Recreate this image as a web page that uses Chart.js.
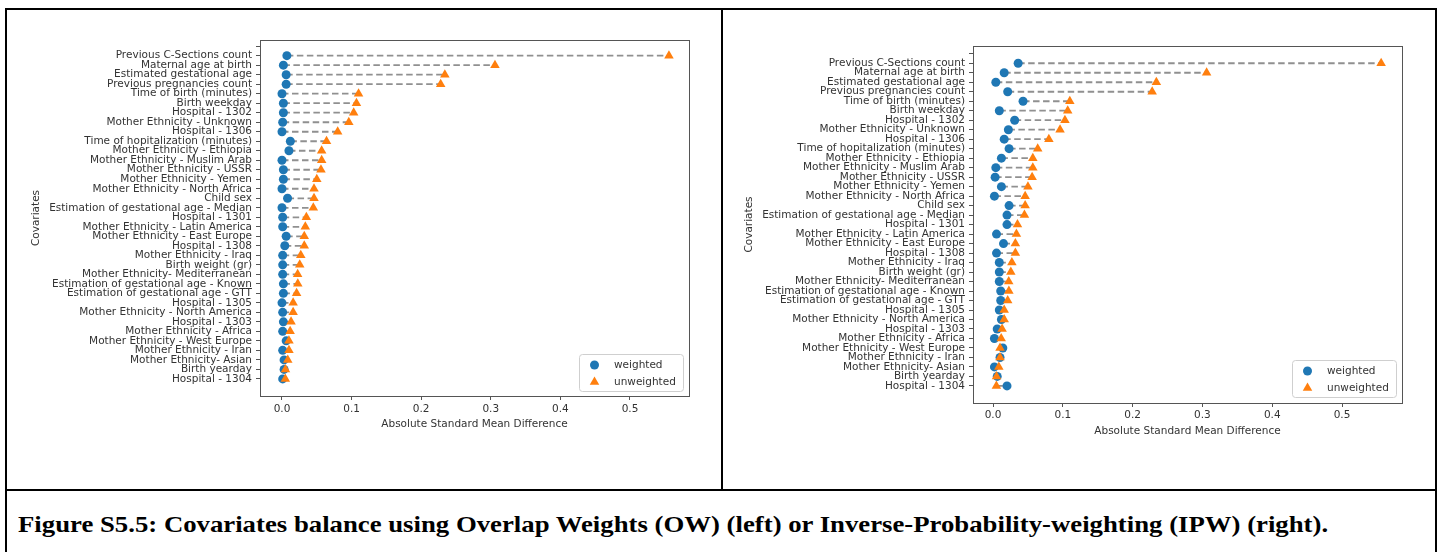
<!DOCTYPE html>
<html>
<head>
<meta charset="utf-8">
<script src="https://cdn.jsdelivr.net/npm/chart.js@4.4.0/dist/chart.umd.min.js"></script>
<style>
  body { margin: 0; background: #fff; width: 1442px; height: 552px; overflow: hidden; position: relative; }
  canvas { position: absolute; }
  .rule { position: absolute; background: #000; }
  #caption { position: absolute; left: 18px; top: 512px; line-height: 23px; white-space: nowrap;
             font: bold 23px "Liberation Serif", "Times New Roman", serif; color: #000;
             transform: scaleX(1.163); transform-origin: 0 50%; }
</style>
</head>
<body>
<canvas id="owChart" width="712" height="478" style="left:8px;top:10px"></canvas>
<canvas id="ipwChart" width="710" height="478" style="left:724px;top:10px"></canvas>

<div class="rule" style="left:5px;top:8px;width:1432px;height:2px"></div>
<div class="rule" style="left:5px;top:8px;width:2px;height:560px"></div>
<div class="rule" style="left:1435px;top:8px;width:2px;height:560px"></div>
<div class="rule" style="left:721px;top:8px;width:2px;height:483px"></div>
<div class="rule" style="left:5px;top:489px;width:1432px;height:2px"></div>
<div id="caption">Figure S5.5: Covariates balance using Overlap Weights (OW) (left) or Inverse-Probability-weighting (IPW) (right).</div>

<script>
// covariates, top to bottom
const covariates = [
  'Previous C-Sections count', 'Maternal age at birth', 'Estimated gestational age',
  'Previous pregnancies count', 'Time of birth (minutes)', 'Birth weekday', 'Hospital - 1302',
  'Mother Ethnicity - Unknown', 'Hospital - 1306', 'Time of hopitalization (minutes)',
  'Mother Ethnicity - Ethiopia', 'Mother Ethnicity - Muslim Arab', 'Mother Ethnicity - USSR',
  'Mother Ethnicity - Yemen', 'Mother Ethnicity - North Africa', 'Child sex',
  'Estimation of gestational age - Median', 'Hospital - 1301', 'Mother Ethnicity - Latin America',
  'Mother Ethnicity - East Europe', 'Hospital - 1308', 'Mother Ethnicity - Iraq', 'Birth weight (gr)',
  'Mother Ethnicity- Mediterranean', 'Estimation of gestational age - Known',
  'Estimation of gestational age - GTT', 'Hospital - 1305', 'Mother Ethnicity - North America',
  'Hospital - 1303', 'Mother Ethnicity - Africa', 'Mother Ethnicity - West Europe',
  'Mother Ethnicity - Iran', 'Mother Ethnicity- Asian', 'Birth yearday', 'Hospital - 1304'
];
const unweighted = [0.556, 0.306, 0.234, 0.228, 0.110, 0.107, 0.103, 0.096, 0.080, 0.064,
  0.057, 0.057, 0.056, 0.050, 0.046, 0.046, 0.045, 0.035, 0.0335, 0.032,
  0.032, 0.027, 0.0255, 0.0225, 0.0227, 0.021, 0.016, 0.016, 0.013, 0.0117,
  0.010, 0.010, 0.0083, 0.005, 0.0048];
const owWeighted = [0.007, 0.002, 0.006, 0.006, 0.000, 0.002, 0.002, 0.001, 0.000, 0.012,
  0.010, 0.000, 0.002, 0.002, 0.000, 0.008, 0.000, 0.001, 0.001, 0.006,
  0.004, 0.001, 0.001, 0.001, 0.002, 0.002, 0.000, 0.001, 0.002, 0.001,
  0.006, 0.001, 0.003, 0.003, 0.001];
const ipwWeighted = [0.036, 0.016, 0.004, 0.021, 0.043, 0.009, 0.031, 0.022, 0.016, 0.023,
  0.012, 0.004, 0.003, 0.012, 0.002, 0.023, 0.020, 0.020, 0.005, 0.015,
  0.005, 0.009, 0.009, 0.009, 0.011, 0.011, 0.009, 0.012, 0.006, 0.002,
  0.014, 0.010, 0.002, 0.006, 0.020];
const xTicks = [0.0, 0.1, 0.2, 0.3, 0.4, 0.5];
const seriesNames = ['weighted', 'unweighted'];

const FONT = { family: '"DejaVu Sans"', size: 10.5 };
const TEXT = '#333';

// full box around the plot area (matplotlib spines)
const frame = {
  id: 'frame',
  afterDraw(chart) {
    const { ctx, chartArea: a } = chart;
    ctx.save();
    ctx.strokeStyle = '#555';
    ctx.lineWidth = 1;
    ctx.strokeRect(Math.round(a.left) + 0.5, Math.round(a.top) + 0.5,
      Math.round(a.right - a.left), Math.round(a.bottom - a.top));
    ctx.restore();
  }
};

// legend drawn inside the lower right corner
const boxLegend = {
  id: 'boxLegend',
  afterDraw(chart, args, opts) {
    const { ctx, chartArea: a } = chart;
    const x = a.right - opts.right - opts.width, y = a.bottom - opts.bottom - opts.height;
    ctx.save();
    ctx.fillStyle = 'rgba(255,255,255,0.85)';
    ctx.strokeStyle = '#cfcfcf';
    ctx.lineWidth = 1;
    ctx.beginPath();
    ctx.roundRect(x + 0.5, y + 0.5, opts.width, opts.height, 3);
    ctx.fill();
    ctx.stroke();
    const items = chart.data.datasets.filter(d => d.inLegend);
    items.forEach((d, i) => {
      const cy = y + 11 + i * 17;
      ctx.fillStyle = d.backgroundColor;
      Chart.helpers.drawPoint(ctx, { pointStyle: d.pointStyle, radius: d.pointRadius, borderWidth: 0 }, x + 15.5, cy);
      ctx.fillStyle = TEXT;
      ctx.font = FONT.size + 'px ' + FONT.family;
      ctx.textBaseline = 'middle';
      ctx.fillText(d.label, x + 35, cy);
    });
    ctx.restore();
  }
};

function buildChart(id, weighted, cfg) {
  const rowLines = covariates.map((c, i) => ({
    data: [{ x: Math.min(weighted[i], unweighted[i]), y: i }, { x: Math.max(weighted[i], unweighted[i]), y: i }],
    showLine: true, borderColor: '#909090', borderWidth: 1.8, borderDash: [6.5, 3.5],
    pointRadius: 0, order: 3, inLegend: false
  }));
  return new Chart(document.getElementById(id).getContext('2d'), {
    type: 'scatter',
    data: {
      datasets: rowLines.concat([
        { label: seriesNames[0], data: weighted.map((v, i) => ({ x: v, y: i })), pointStyle: 'circle',
          pointRadius: 4.5, backgroundColor: '#1f77b4', borderWidth: 0, order: 2, inLegend: true },
        { label: seriesNames[1], data: unweighted.map((v, i) => ({ x: v, y: i })), pointStyle: 'triangle',
          pointRadius: 5.5, backgroundColor: '#ff7f0e', borderWidth: 0, order: 1, inLegend: true }
      ])
    },
    options: {
      responsive: false, animation: false, events: [],
      layout: { padding: { left: 0, top: cfg.padTop, right: cfg.padRight, bottom: cfg.padBottom } },
      plugins: { legend: { display: false }, tooltip: { enabled: false },
                 boxLegend: { width: 104, height: 37, right: 6, bottom: cfg.legendBottom } },
      scales: {
        x: {
          type: 'linear', min: cfg.xMin, max: cfg.xMax,
          afterBuildTicks: s => { s.ticks = xTicks.map(v => ({ value: v })); },
          afterFit: s => { s.height = 50; },
          ticks: { color: TEXT, font: FONT, padding: cfg.xTickPad, callback: v => v.toFixed(1) },
          grid: { drawOnChartArea: false, tickLength: 4, color: '#555' },
          border: { display: false },
          title: { display: true, text: 'Absolute Standard Mean Difference', color: TEXT, font: FONT,
                   padding: { top: 0, bottom: 15 } }
        },
        y: {
          type: 'linear', reverse: true, min: cfg.yMin, max: 35.8,
          afterBuildTicks: s => { s.ticks = [-1].concat(covariates.map((c, i) => i)).map(v => ({ value: v })); },
          afterFit: s => { s.width = cfg.yWidth; },
          ticks: { autoSkip: false, color: TEXT, font: FONT, padding: 4, callback: v => covariates[v] || '' },
          grid: { drawOnChartArea: false, tickLength: 4, color: '#555' },
          border: { display: false },
          title: { display: true, text: 'Covariates', color: TEXT, font: FONT,
                   padding: { top: cfg.yTitlePad, bottom: 0 } }
        }
      }
    },
    plugins: [frame, boxLegend]
  });
}

buildChart('owChart', owWeighted, {
  padTop: 30, padRight: 31, padBottom: 42, yWidth: 252, yTitlePad: 22,
  xMin: -0.0316, xMax: 0.5848, yMin: -1.65, xTickPad: 3, legendBottom: 5
});
buildChart('ipwChart', ipwWeighted, {
  padTop: 36, padRight: 32, padBottom: 35, yWidth: 249, yTitlePad: 19,
  xMin: -0.0287, xMax: 0.5859, yMin: -1.82, xTickPad: 2, legendBottom: 6
});
</script>
</body>
</html>
